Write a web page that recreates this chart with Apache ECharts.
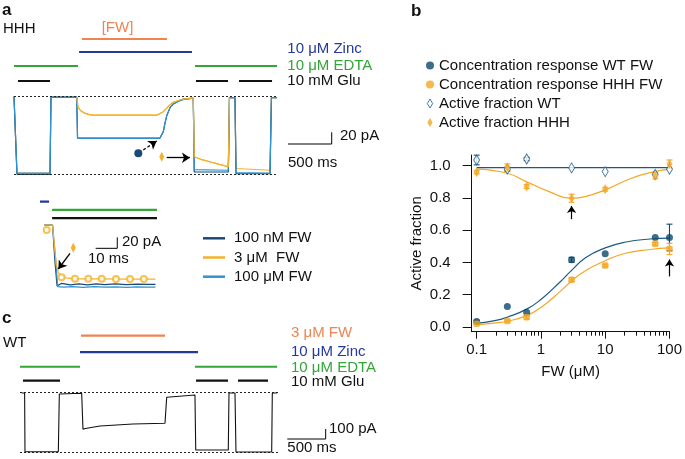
<!DOCTYPE html>
<html><head><meta charset="utf-8">
<script src="https://cdn.jsdelivr.net/npm/echarts@6/dist/echarts.min.js"></script>
<style>html,body{margin:0;padding:0;background:#fff}#c{width:685px;height:459px}</style>
</head><body><div id="c"></div>
<script>
// ---------- Panel b data ----------
const conc = [0.1, 0.3, 0.6, 3, 10, 60, 100];
const crWT = [0.033, 0.127, 0.09, 0.416, 0.453, 0.555, 0.555];
const crWTerr = [0.008, 0, 0, 0.015, 0, 0, 0.082];
const crHHH = [0.02, 0.037, 0.06, 0.293, 0.38, 0.515, 0.483];
const crHHHerr = [0, 0.006, 0.012, 0.012, 0.008, 0.008, 0.035];
const afWT = [1.035, 0.978, 1.041, 0.986, 0.963, 0.945, 0.978];
const afWTerr = [0.03, 0.012, 0.01, 0, 0, 0, 0];
const afHHH = [0.959, 0.99, 0.87, 0.798, 0.854, 0.938, 1.01];
const afHHHerr = [0.01, 0.02, 0.012, 0.025, 0.012, 0.02, 0.025];
const fitConcWT = [0.1, 0.2, 0.3, 0.6, 1, 2, 3, 5, 10, 20, 50, 100];
const fitWT = [0.022, 0.04, 0.06, 0.11, 0.17, 0.28, 0.35, 0.43, 0.49, 0.525, 0.545, 0.55];
const fitConcHHH = [0.1, 0.2, 0.3, 0.6, 1, 2, 3, 5, 10, 20, 50, 100];
const fitHHH = [0.012, 0.025, 0.035, 0.07, 0.12, 0.22, 0.285, 0.35, 0.41, 0.455, 0.48, 0.49];
const fitAfConcWT = [0.1, 100];
const fitAfWT = [0.988, 0.988];
const fitAfConcHHH = [0.1, 0.3, 0.59, 1.34, 2.97, 4.9, 10, 25.7, 59, 100];
const fitAfHHH = [0.978, 0.953, 0.901, 0.839, 0.798, 0.808, 0.85, 0.922, 0.963, 0.978];
const xTickConc = [0.1, 1, 10, 100];
const xTickLabels = ['0.1', '1', '10', '100'];
const yTicks = [0, 0.2, 0.4, 0.6, 0.8, 1.0];
const legendB = ['Concentration response WT FW', 'Concentration response HHH FW', 'Active fraction WT', 'Active fraction HHH'];

// ---------- Panel a data (time ms, current pA) ----------
const traceA_3uM = [[0,0],[11,0],[34,-131],[412,-131],[423,-1],[717,-1],[732,-18],[760,-24],[800,-28],[860,-31],[904,-32],[1633,-32],[1670,-29],[1708,-26],[1747,-20],[1785,-14],[1822,-10],[1899,-6],[1937,-4.5],[2051,-2.5],[2062,-103],[2150,-108],[2250,-112],[2350,-116],[2452,-120],[2465,-2],[2528,-2],[2540,-123],[2929,-126],[2945,-2],[3005,-2]];
const traceA_100uM = [[0,0],[11,0],[34,-131],[412,-131],[423,-1],[717,-1],[727,-71],[1200,-71.5],[1670,-71],[1690,-68],[1708,-60],[1728,-45],[1747,-33],[1785,-19],[1822,-13],[1899,-7],[1937,-5],[2051,-3],[2062,-125],[2452,-126],[2465,-2],[2528,-2],[2540,-130],[2929,-131],[2945,-2],[3005,-2]];
const traceA_100nM = [[0,0],[11,0],[34,-133],[412,-133],[423,-1],[717,-1],[727,-71],[1670,-71],[1690,-68],[1708,-60],[1728,-45],[1747,-33],[1785,-19],[1822,-13],[1899,-7],[1937,-5],[2051,-3],[2062,-129],[2452,-129],[2465,-2],[2528,-2],[2540,-132],[2929,-132],[2945,-2],[3005,-2]];
const aFW = [[778, 1750]];
const aZinc = [[744, 2036]];
const aEDTA = [[0, 732], [2071, 3009]];
const aGlu = [[46, 412], [2082, 2448], [2574, 2952]];
const aLevels = [4, 3.07, 2.07, 1]; // FW, Zinc, EDTA, Glu rows
const aScale = [[3134.6,-81.2],[3634.6,-81.2],[3634.6,-61.2]];

// inset (time ms, current pA)
const inset_100nM = [[2,0],[5.8,0],[7,-70],[7.9,-111],[10,-106],[14,-109],[18,-107],[22,-109],[26,-107],[30,-108.5],[35,-107],[40,-108.5],[45,-107.5],[50,-108],[53.5,-108]];
const inset_100uM = [[2,0],[5.8,0],[7.2,-60],[8.2,-112],[9,-115],[11,-113],[15,-112],[20,-113.5],[25,-112],[30,-113],[35,-112.5],[40,-113.5],[45,-112.5],[50,-113],[53.5,-113]];
const inset_3uM = [[2,0],[5.8,0],[7.5,-70],[8.5,-87],[10,-92],[12,-96],[15,-97.5],[20,-98],[30,-98],[40,-98.5],[53.5,-98.5]];
const inset_3uMfit = [[3.1,-9],[10,-95],[16.2,-97.5],[22.4,-97.5],[28.6,-97.5],[35.2,-98],[41.7,-98],[48.1,-98]];
const insetZinc = [[0, 4.2]];
const insetEDTA = [[5.6, 54.2]];
const insetGlu = [[5.6, 54.2]];
const insetScale = [[25.8,-42.4],[35.8,-42.4],[35.8,-22.4]];
const insetNames = ['100 nM FW', '3 μM  FW', '100 μM FW'];

// ---------- Panel c data ----------
const traceC = [[22,-7],[60,-7],[65,-594],[499,-594],[512,-17],[803,-10],[820,-370],[850,-362],[1042,-337],[1471,-317],[1888,-310],[1910,-50],[2278,-27],[2288,-577],[2712,-577],[2721,-7],[2799,-7],[2812,-597],[3277,-597],[3285,-7],[3346,-7]];
const cFW = [[794, 1888]];
const cZinc = [[781, 2318]];
const cEDTA = [[0, 781], [2279, 3346]];
const cGlu = [[39, 521], [2292, 2708], [2838, 3229]];
const cLevels = [4, 2.91, 1.93, 1];
const cScale = [[3480,-467],[3980,-467],[3980,-367]];

// ---------- styles ----------
const FONT = "'Liberation Sans', Arial, Helvetica, sans-serif";
const C_WT = '#0d4a6b', C_HHH = '#f5a623', C_WTline = '#1b5a86';
const C_NAVY = '#1b4a78', C_ORANGE = '#f5b12a', C_LBLUE = '#2e93d1';
const C_ZN = '#24399c', C_EDTA = '#33a637', C_FW = '#ef8450', C_GLU = '#111';
const lg = Math.log10;

const chart = echarts.init(document.getElementById('c'), null, {renderer: 'canvas'});

const series = [];

function errBars(xs, ys, es, color) {
  series.push({
    type: 'custom', xAxisIndex: 0, yAxisIndex: 0, z: 1, silent: true,
    data: xs.map((x, i) => [lg(x), ys[i], es[i]]),
    renderItem(params, api) {
      const x = api.value(0), y = api.value(1), e = api.value(2);
      if (!e) return null;
      const p1 = api.coord([x, y - e]), p2 = api.coord([x, y + e]);
      const w = 3;
      const st = {stroke: color, lineWidth: 1.1};
      return {type: 'group', children: [
        {type: 'line', shape: {x1: p1[0], y1: p1[1], x2: p2[0], y2: p2[1]}, style: st},
        {type: 'line', shape: {x1: p1[0]-w, y1: p1[1], x2: p1[0]+w, y2: p1[1]}, style: st},
        {type: 'line', shape: {x1: p2[0]-w, y1: p2[1], x2: p2[0]+w, y2: p2[1]}, style: st}
      ]};
    }
  });
}
errBars(conc, crWT, crWTerr, C_WT);
errBars(conc, crHHH, crHHHerr, C_HHH);
errBars(conc, afWT, afWTerr, C_WTline);
errBars(conc, afHHH, afHHHerr, C_HHH);

function fitLine(cs, vs, color, extra) {
  series.push(Object.assign({
    type: 'line', xAxisIndex: 0, yAxisIndex: 0, smooth: 0.5, showSymbol: false, silent: true, z: 2,
    data: cs.map((c, i) => [lg(c), vs[i]]),
    lineStyle: {color, width: 1.2}
  }, extra || {}));
}
fitLine(fitConcWT, fitWT, C_WTline);
fitLine(fitConcHHH, fitHHH, C_HHH);
fitLine(fitAfConcHHH, fitAfHHH, C_HHH);
fitLine(fitAfConcWT, fitAfWT, C_WTline, {
  markLine: {silent: true, symbol: ['none', 'arrow'], symbolSize: 7,
    lineStyle: {color: '#000', width: 1.2, type: 'solid'}, label: {show: false},
    data: [
      [{coord: [lg(3), 0.668]}, {coord: [lg(3), 0.75]}],
      [{coord: [lg(100), 0.313]}, {coord: [lg(100), 0.418]}]
    ]}
});

series.push({name: legendB[2], type: 'scatter', xAxisIndex: 0, yAxisIndex: 0, z: 3,
  symbol: 'diamond', symbolSize: [6, 10],
  itemStyle: {color: '#fff', borderColor: C_WTline, borderWidth: 1},
  data: conc.map((c, i) => [lg(c), afWT[i]])});
series.push({name: legendB[3], type: 'scatter', xAxisIndex: 0, yAxisIndex: 0, z: 4,
  symbol: 'diamond', symbolSize: [6, 10], itemStyle: {color: C_HHH},
  data: conc.map((c, i) => [lg(c), afHHH[i]])});
series.push({name: legendB[0], type: 'scatter', xAxisIndex: 0, yAxisIndex: 0, z: 4,
  symbol: 'circle', symbolSize: 7, itemStyle: {color: C_WT},
  data: conc.map((c, i) => [lg(c), crWT[i]])});
series.push({name: legendB[1], type: 'scatter', xAxisIndex: 0, yAxisIndex: 0, z: 5,
  symbol: 'roundRect', symbolSize: 6.5, itemStyle: {color: C_HHH},
  data: conc.map((c, i) => [lg(c), crHHH[i]])});

// solution bars helper
function bars(intervals, level, color, xi, yi, w) {
  intervals.forEach(iv => series.push({type: 'line', xAxisIndex: xi, yAxisIndex: yi, showSymbol: false, silent: true,
    data: [[iv[0], level], [iv[1], level]], lineStyle: {color, width: w || 2.2}}));
}
bars(aFW, aLevels[0], C_FW, 2, 1);
bars(aZinc, aLevels[1], C_ZN, 2, 1);
bars(aEDTA, aLevels[2], C_EDTA, 2, 1);
bars(aGlu, aLevels[3], C_GLU, 2, 1);
bars(insetZinc, 3, C_ZN, 4, 3);
bars(insetEDTA, 2, C_EDTA, 4, 3);
bars(insetGlu, 1, C_GLU, 4, 3);
bars(cFW, cLevels[0], C_FW, 6, 5);
bars(cZinc, cLevels[1], C_ZN, 6, 5);
bars(cEDTA, cLevels[2], C_EDTA, 6, 5);
bars(cGlu, cLevels[3], C_GLU, 6, 5);

const dotted = {color: '#222', width: 1, type: [2, 2]};
function trace(name, data, color, xi, yi, extra) {
  series.push(Object.assign({name, type: 'line', xAxisIndex: xi, yAxisIndex: yi, showSymbol: false, silent: true,
    data, lineStyle: {color, width: 1.2}, itemStyle: {color}}, extra || {}));
}
// panel a main traces
trace(insetNames[1], traceA_3uM, C_ORANGE, 3, 2, {
  markPoint: {silent: true, label: {show: false}, data: [
    {coord: [1422, -97], symbol: 'circle', symbolSize: 8, itemStyle: {color: C_NAVY}},
    {coord: [1690, -103], symbol: 'diamond', symbolSize: [5, 10], itemStyle: {color: C_ORANGE}}
  ]},
  markLine: {silent: true, symbol: ['none', 'arrow'], symbolSize: 8, label: {show: false},
    data: [
      [{coord: [1479, -91.4], lineStyle: {color: '#000', width: 1.3, type: [3, 2]}}, {coord: [1632, -76]}],
      [{coord: [1747, -104.6], lineStyle: {color: '#000', width: 1.3, type: 'solid'}}, {coord: [2013, -104.6]}]
    ]}
});
trace(insetNames[0], traceA_100nM, C_NAVY, 3, 2, {
  markLine: {silent: true, symbol: 'none', label: {show: false}, lineStyle: dotted,
    data: [[{coord: [0, 0]}, {coord: [3009, 0]}], [{coord: [0, -133]}, {coord: [3009, -133]}]]}
});
trace(insetNames[2], traceA_100uM, C_LBLUE, 3, 2);
trace(insetNames[1], traceA_3uM.slice(5, 26), C_ORANGE, 3, 2);
trace('', aScale, '#000', 3, 2, {lineStyle: {color: '#000', width: 1}});

// inset traces
trace(insetNames[0], inset_100nM, C_NAVY, 5, 4);
trace(insetNames[2], inset_100uM, C_LBLUE, 5, 4);
trace(insetNames[1], inset_3uM, C_ORANGE, 5, 4, {
  markPoint: {silent: true, label: {show: false}, data: [
    {coord: [15.4, -41.3], symbol: 'diamond', symbolSize: [5, 10], itemStyle: {color: C_ORANGE}}
  ]},
  markLine: {silent: true, symbol: ['none', 'arrow'], symbolSize: 8, label: {show: false},
    lineStyle: {color: '#000', width: 1.3, type: 'solid'},
    data: [[{coord: [13.9, -51.5]}, {coord: [8.5, -80]}]]}
});
series.push({type: 'scatter', xAxisIndex: 5, yAxisIndex: 4, silent: true, symbol: 'emptyCircle', symbolSize: 6,
  itemStyle: {color: C_ORANGE, borderWidth: 1.1}, data: inset_3uMfit, z: 5});
trace('', insetScale, '#000', 5, 4, {lineStyle: {color: '#000', width: 1}});

// panel c trace
trace('WT', traceC, '#111', 7, 6, {
  lineStyle: {color: '#111', width: 1.1},
  markLine: {silent: true, symbol: 'none', label: {show: false}, lineStyle: dotted,
    data: [[{coord: [0, 0]}, {coord: [3359, 0]}], [{coord: [0, -604]}, {coord: [3359, -604]}]]}
});
trace('', cScale, '#000', 7, 6, {lineStyle: {color: '#000', width: 1}});

const hiddenX = (min, max, gi) => ({type: 'value', gridIndex: gi, min, max, show: false});
const hiddenY = (min, max, gi) => ({type: 'value', gridIndex: gi, min, max, show: false});

const minorTicks = [];
[-1, 0, 1].forEach(d => { for (let k = 2; k <= 9; k++) minorTicks.push(d + lg(k)); });

function txt(text, x, y, fill, opts) {
  return Object.assign({type: 'text', silent: true, style: Object.assign({
    text, x, y, fill: fill || '#111', font: '15px ' + FONT,
    textVerticalAlign: 'middle', verticalAlign: 'middle', textAlign: 'left', align: 'left'
  }, opts || {})});
}

const option = {
  animation: false,
  backgroundColor: '#fff',
  textStyle: {fontFamily: FONT},
  grid: [
    {left: 471.7, top: 155, width: 200, height: 176.7},
    {left: 14, top: 25, width: 326, height: 70},
    {left: 14, top: 91.8, width: 326, height: 87.8},
    {left: 40, top: 185, width: 120, height: 41.5},
    {left: 40, top: 222.25, width: 120, height: 68.75},
    {left: 20, top: 320.7, width: 322, height: 75},
    {left: 20, top: 389.3, width: 322, height: 69}
  ],
  xAxis: [
    {type: 'value', gridIndex: 0, min: -1.077, max: 2, position: 'bottom',
      name: 'FW (μM)', nameLocation: 'middle', nameGap: 33,
      nameTextStyle: {fontSize: 15, color: '#111', fontFamily: FONT},
      axisLine: {onZero: false, lineStyle: {color: '#111', width: 1}},
      axisTick: {customValues: xTickConc.map(lg), length: 7, lineStyle: {color: '#111'}},
      axisLabel: {customValues: xTickConc.map(lg), margin: 11, fontSize: 15, color: '#111', fontFamily: FONT,
        formatter: v => xTickLabels[xTickConc.findIndex(c => Math.abs(lg(c) - v) < 1e-6)] || ''},
      splitLine: {show: false}},
    {type: 'value', gridIndex: 0, min: -1.077, max: 2, position: 'bottom',
      axisLine: {show: false, onZero: false},
      axisTick: {customValues: minorTicks, length: 4, lineStyle: {color: '#111'}},
      axisLabel: {show: false}, splitLine: {show: false}},
    hiddenX(0, 3729.5, 1),
    hiddenX(0, 3729.5, 2),
    hiddenX(0, 55.6, 3),
    hiddenX(0, 55.6, 4),
    hiddenX(0, 4192.4, 5),
    hiddenX(0, 4192.4, 6)
  ],
  yAxis: [
    {type: 'value', gridIndex: 0, min: -0.03, max: 1.066,
      name: 'Active fraction', nameLocation: 'middle', nameGap: 47, nameRotate: 90,
      nameTextStyle: {fontSize: 15, color: '#111', fontFamily: FONT},
      axisLine: {show: true, onZero: false, lineStyle: {color: '#111', width: 1}},
      axisTick: {show: true, customValues: yTicks, length: 9, lineStyle: {color: '#111'}},
      axisLabel: {customValues: yTicks, margin: 21, fontSize: 15, color: '#111', fontFamily: FONT,
        formatter: v => v.toFixed(1)},
      splitLine: {show: false}},
    hiddenY(0, 5, 1),
    hiddenY(-142, 8, 2),
    hiddenY(0, 5, 3),
    hiddenY(-120, 5, 4),
    hiddenY(0, 5, 5),
    hiddenY(-660, 30, 6)
  ],
  legend: [
    {data: [
        {name: legendB[0], icon: 'circle'},
        {name: legendB[1], icon: 'circle'},
        {name: legendB[2], icon: 'path://M3,0 L6,5 L3,10 L0,5 Z', itemStyle: {color: '#fff', borderColor: C_WTline, borderWidth: 1}},
        {name: legendB[3], icon: 'path://M3,0 L6,5 L3,10 L0,5 Z'}],
      orient: 'vertical', left: 421, top: 53, itemGap: 4, itemWidth: 8, itemHeight: 9,
      selectedMode: false,
      textStyle: {fontSize: 15, color: '#111', fontFamily: FONT, lineHeight: 15}},
    {data: insetNames.map(n => ({name: n, icon: 'rect'})),
      orient: 'vertical', left: 198, top: 225.8, itemGap: 4.2, itemWidth: 22, itemHeight: 2.5,
      selectedMode: false,
      textStyle: {fontSize: 15, color: '#111', fontFamily: FONT, lineHeight: 15, padding: [0, 0, 0, 4]}}
  ],
  graphic: [
    txt('a', 2, 10, '#111', {font: 'bold 17px ' + FONT}),
    txt('HHH', 3, 29),
    txt('[FW]', 117.5, 28.3, C_FW, {textAlign: 'center', align: 'center'}),
    txt('10 μM Zinc', 287.3, 49.3, C_ZN),
    txt('10 μM EDTA', 287.3, 66, C_EDTA),
    txt('10 mM Glu', 287.3, 81),
    txt('20 pA', 340, 136),
    txt('500 ms', 288, 162.7),
    txt('20 pA', 122, 241.7),
    txt('10 ms', 88, 259),
    txt('b', 411, 11, '#111', {font: 'bold 17px ' + FONT}),
    txt('c', 2, 318, '#111', {font: 'bold 17px ' + FONT}),
    txt('WT', 3, 343),
    txt('3 μM FW', 291, 333.3, C_FW),
    txt('10 μM Zinc', 291, 351.7, C_ZN),
    txt('10 μM EDTA', 291, 368.3, C_EDTA),
    txt('10 mM Glu', 291, 381.7),
    txt('100 pA', 329, 429),
    txt('500 ms', 287.3, 448.3)
  ],
  series
};
chart.setOption(option);
</script>
</body></html>
